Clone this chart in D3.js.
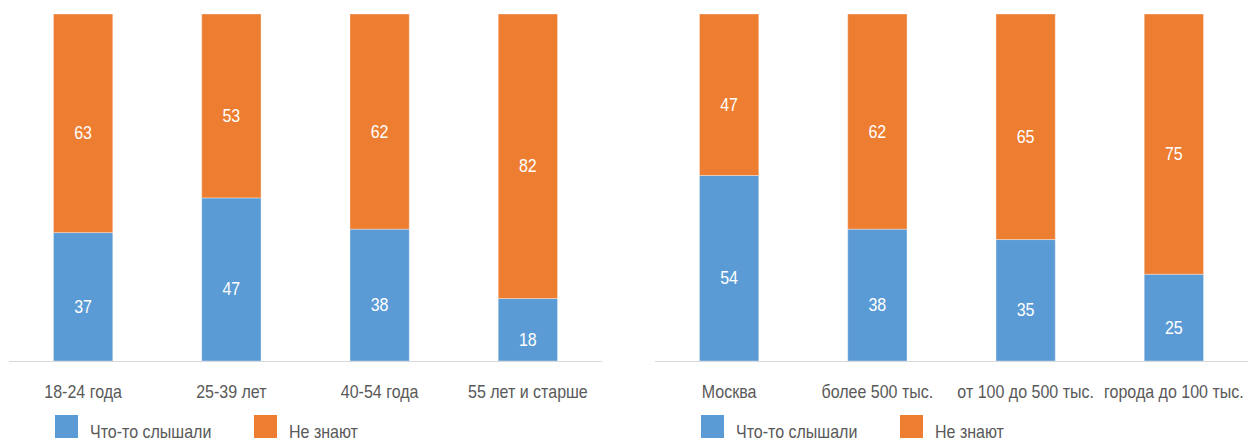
<!DOCTYPE html>
<html>
<head>
<meta charset="utf-8">
<script src="https://cdn.jsdelivr.net/npm/d3@7"></script>
<style>
  html, body { margin: 0; padding: 0; background: #fff; }
  svg { display: block; }
  text { font-family: "Liberation Sans", Arial, sans-serif; }
</style>
</head>
<body>
<svg id="chart" width="1250" height="441"></svg>
<script>
// Age groups
const ageCategories = ["18-24 года", "25-39 лет", "40-54 года", "55 лет и старше"];
const ageHeard = [37, 47, 38, 18];
const ageUnaware = [63, 53, 62, 82];

// Settlement type
const cityCategories = ["Москва", "более 500 тыс.", "от 100 до 500 тыс.", "города до 100 тыс."];
const cityHeard = [54, 38, 35, 25];
const cityUnaware = [47, 62, 65, 75];

const seriesNames = ["Что-то слышали", "Не знают"];
const seriesColors = ["#5B9BD5", "#ED7D31"];

const svg = d3.select("#chart");

const plotTop = 14;
const plotBottom = 361;
const narrow = 0.89; // horizontal squeeze for a condensed look

// places a condensed text at (x, y)
function condensedText(parent, x, y, str, opts) {
  return parent.append("text")
    .attr("transform", `translate(${x},${y}) scale(${narrow},1)`)
    .attr("text-anchor", opts.anchor || "start")
    .attr("font-size", opts.size || 18)
    .attr("fill", opts.fill)
    .text(str);
}

function drawPanel(x0, x1, categories, heard, unaware, legendX) {
  const g = svg.append("g");

  const rows = categories.map((c, i) => ({ cat: c, heard: heard[i], unaware: unaware[i] }));
  const stacked = d3.stack()
    .keys(["heard", "unaware"])
    .offset(d3.stackOffsetExpand)(rows);

  const x = d3.scaleBand().domain(categories).range([x0, x1]).paddingInner(0.6).paddingOuter(0.3);
  const y = d3.scaleLinear().domain([0, 1]).range([plotBottom, plotTop]);

  stacked.forEach((layer, li) => {
    const lg = g.append("g");
    lg.selectAll("rect")
      .data(layer)
      .join("rect")
      .attr("x", d => x(d.data.cat))
      .attr("width", x.bandwidth())
      .attr("y", d => y(d[1]))
      .attr("height", d => y(d[0]) - y(d[1]))
      .attr("fill", seriesColors[li])
      .attr("stroke", "rgba(255,255,255,0.35)")
      .attr("stroke-width", 1);

    layer.forEach(d => {
      condensedText(lg,
        x(d.data.cat) + x.bandwidth() / 2,
        (y(d[0]) + y(d[1])) / 2 + 16,
        d.data[layer.key],
        { anchor: "middle", fill: "#fff", size: 18 });
    });
  });

  // baseline
  g.append("line")
    .attr("x1", x0).attr("x2", x1)
    .attr("y1", plotBottom + 0.5).attr("y2", plotBottom + 0.5)
    .attr("stroke", "#d9d9d9").attr("stroke-width", 1);

  // category labels
  const ax = g.append("g");
  categories.forEach(c => {
    condensedText(ax, x(c) + x.bandwidth() / 2, plotBottom + 37, c,
      { anchor: "middle", fill: "#595959", size: 18 });
  });

  // legend
  const legend = g.append("g");
  const offsets = [0, 199];
  seriesNames.forEach((name, i) => {
    const lx = legendX + offsets[i];
    legend.append("rect")
      .attr("x", lx).attr("y", 415)
      .attr("width", 23).attr("height", 23)
      .attr("fill", seriesColors[i]);
    condensedText(legend, lx + 35, 438, name, { fill: "#595959", size: 18 });
  });
}

drawPanel(9, 602, ageCategories, ageHeard, ageUnaware, 55);
drawPanel(655, 1248, cityCategories, cityHeard, cityUnaware, 701);
</script>
</body>
</html>
